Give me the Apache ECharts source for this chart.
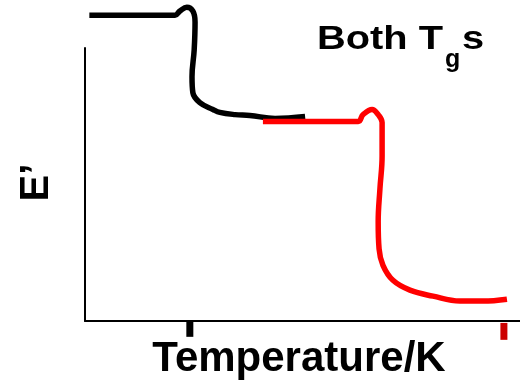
<!DOCTYPE html>
<html>
<head>
<meta charset="utf-8">
<script src="https://cdn.jsdelivr.net/npm/echarts@6/dist/echarts.min.js"></script>
<style>
  html, body { margin: 0; padding: 0; background: #fff; }
  #chart { width: 520px; height: 385px; }
</style>
</head>
<body>
<div id="chart"></div>
<script>
// schematic E' vs temperature, arbitrary units 0..100 on both axes
var blackCurve = [
  [1, 112], [20.7, 112], [21.8, 113.5], [23.4, 114.9], [24.8, 113.5],
  [25.3, 109.5], [25.1, 99.3], [24.6, 89.5], [24.8, 83.6], [26.4, 80],
  [29.4, 77.5], [31, 76.4], [34.5, 75.6], [37.9, 75.3], [43.7, 74.2], [50.6, 74.9]
];
var redCurve = [
  [40.9, 73.1], [62.8, 73.1], [63.9, 75.6], [66, 77.5], [67.4, 75.6],
  [68.3, 72.7], [68.3, 60.4], [67.8, 48.4], [67.4, 36.4], [67.6, 26.5],
  [68.5, 20.4], [70.8, 14.9], [74.7, 11.3], [80, 9.1], [86.2, 7.3],
  [91.5, 7.3], [97, 8]
];
// the two Tg markers under the temperature axis
var blackTick = [[24.1, 0], [24.1, -5.8]];
var redTick = [[96.3, -0.7], [96.3, -6.9]];

var font = '"Liberation Sans", Arial, sans-serif';

var chart = echarts.init(document.getElementById('chart'));

var option = {
  animation: false,
  grid: { left: 85, right: 0, top: 48, bottom: 62 },
  xAxis: {
    type: 'value',
    min: 0,
    max: 100,
    name: 'Temperature/K',
    nameLocation: 'middle',
    nameGap: 17,
    nameTextStyle: {
      color: '#000', fontSize: 42, fontWeight: 'bold', fontFamily: font,
      padding: [0, 7, 0, 0]
    },
    axisLine: { show: true, lineStyle: { color: '#000', width: 2 } },
    axisTick: { show: false },
    axisLabel: { show: false },
    splitLine: { show: false }
  },
  yAxis: {
    type: 'value',
    min: 0,
    max: 100,
    name: 'E\u2019',
    nameLocation: 'middle',
    nameRotate: 90,
    nameGap: 28,
    nameTextStyle: {
      color: '#000', fontSize: 40, fontWeight: 'bold', fontFamily: font,
      padding: [0, 0, 0, 4]
    },
    axisLine: { show: true, lineStyle: { color: '#000', width: 2 } },
    axisTick: { show: false },
    axisLabel: { show: false },
    splitLine: { show: false }
  },
  // "Both Tgs" label, a bit stretched sideways like the original
  graphic: [
    {
      type: 'text', x: 317, y: 40, scaleX: 1.17,
      style: { text: 'Both T', fill: '#000', font: 'bold 34px ' + font, verticalAlign: 'middle' }
    },
    {
      type: 'text', x: 445, y: 60,
      style: { text: 'g', fill: '#000', font: 'bold 25px ' + font, verticalAlign: 'middle' }
    },
    {
      type: 'text', x: 462, y: 40, scaleX: 1.17,
      style: { text: 's', fill: '#000', font: 'bold 34px ' + font, verticalAlign: 'middle' }
    }
  ],
  series: [
    {
      type: 'line', data: blackCurve, smooth: 0.4, clip: false, showSymbol: false,
      lineStyle: { color: '#000', width: 5.5 }
    },
    {
      type: 'line', data: redCurve, smooth: 0.4, clip: false, showSymbol: false,
      lineStyle: { color: '#ff0000', width: 5.5 }
    },
    {
      type: 'line', data: blackTick, clip: false, showSymbol: false,
      lineStyle: { color: '#000', width: 7 }
    },
    {
      type: 'line', data: redTick, clip: false, showSymbol: false,
      lineStyle: { color: '#cc0000', width: 7 }
    }
  ]
};

chart.setOption(option);
window.addEventListener('resize', function () { chart.resize(); });
</script>
</body>
</html>
